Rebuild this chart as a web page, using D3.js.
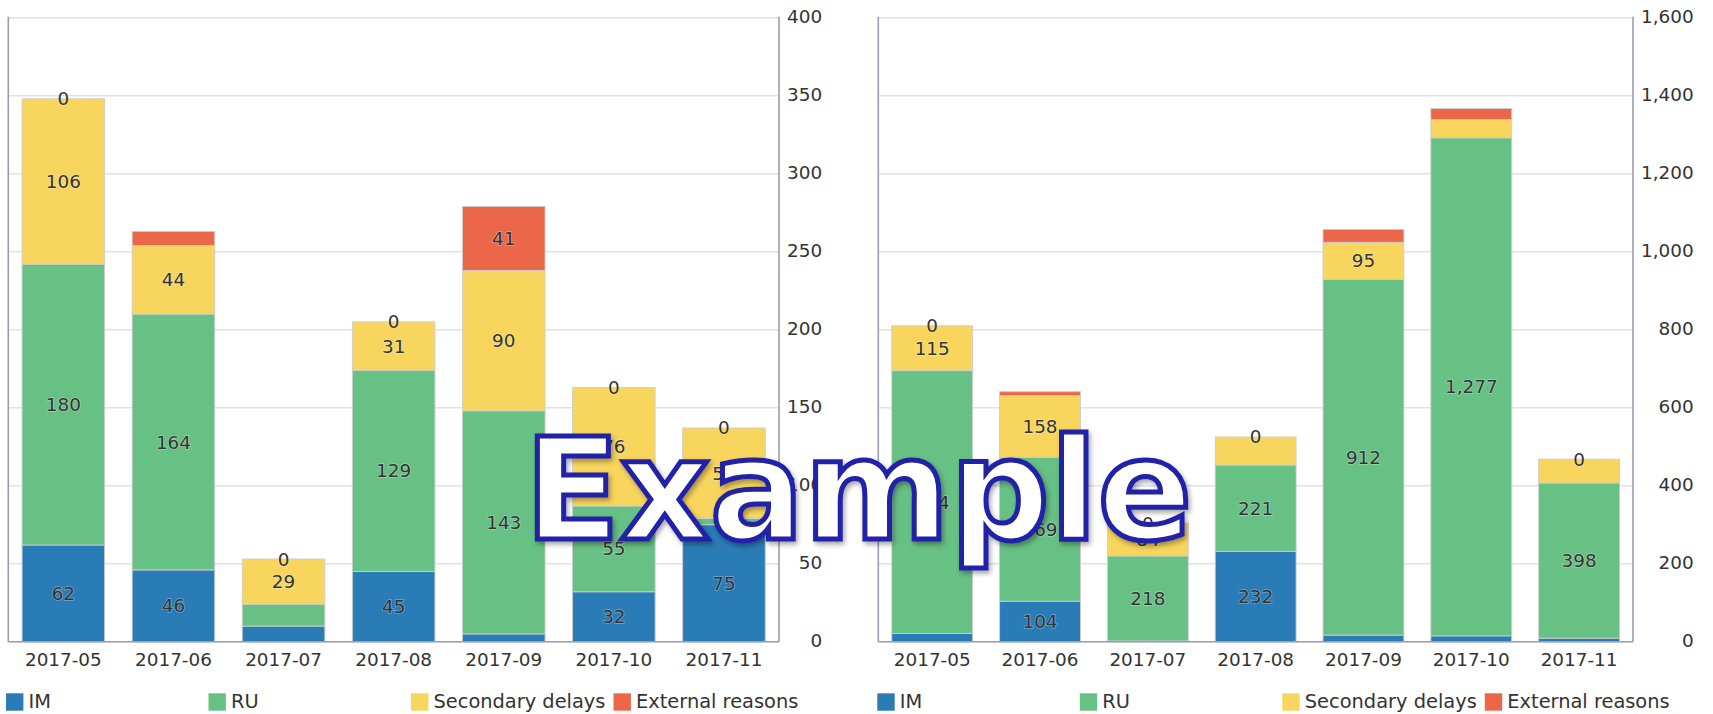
<!DOCTYPE html>
<html>
<head>
<meta charset="utf-8">
<script src="https://cdn.jsdelivr.net/npm/d3@7/dist/d3.min.js"></script>
<style>
  html, body { margin: 0; padding: 0; background: #ffffff; }
  svg { display: block; font-family: "DejaVu Sans", sans-serif; }
</style>
</head>
<body>
<svg id="chart" width="1713" height="714"></svg>
<script>
// ---- data ----
const categories = ["2017-05", "2017-06", "2017-07", "2017-08", "2017-09", "2017-10", "2017-11"];
const seriesNames = ["IM", "RU", "Secondary delays", "External reasons"];
const seriesColors = ["#2a7cb6", "#67c084", "#f8d55c", "#ec6649"];

// left panel
const leftIM  = [62, 46, 10, 45, 5, 32, 75];
const leftRU  = [180, 164, 14, 129, 143, 55, 4];
const leftSec = [106, 44, 29, 31, 90, 76, 58];
const leftExt = [0, 9, 0, 0, 41, 0, 0];
const leftTicks = [0, 50, 100, 150, 200, 250, 300, 350, 400];

// right panel
const rightIM  = [21, 104, 2, 232, 17, 15, 9];
const rightRU  = [674, 369, 218, 221, 912, 1277, 398];
const rightSec = [115, 158, 84, 72, 95, 47, 61];
const rightExt = [0, 10, 0, 0, 33, 28, 0];
const rightTicks = [0, 200, 400, 600, 800, 1000, 1200, 1400, 1600];

const watermarkText = "Example";

// ---- drawing ----
(function () {
const svg = d3.select("#chart");
const fmt = d3.format(",");
const FONT = 18.4;
const TEXT = "#333333";
const AXIS = "#9a9db2";
const GRID = "#e1e1e7";
const yTop = 17.7, yBottom = 641.7;

const panels = [
  { x0: 8.3, x1: 779, ticks: leftTicks, series: [leftIM, leftRU, leftSec, leftExt], legendX: 6 },
  { x0: 878.3, x1: 1633, ticks: rightTicks, series: [rightIM, rightRU, rightSec, rightExt], legendX: 877.3 }
];

panels.forEach(p => {
  const g = svg.append("g");
  const x = d3.scaleBand().domain(categories).range([p.x0, p.x1]).paddingInner(0.25).paddingOuter(0.125);
  const y = d3.scaleLinear().domain([0, d3.max(p.ticks)]).range([yBottom, yTop]);

  // gridlines
  g.append("g").selectAll("line").data(p.ticks).join("line")
    .attr("x1", p.x0).attr("x2", p.x1)
    .attr("y1", d => y(d)).attr("y2", d => y(d))
    .attr("stroke", GRID).attr("stroke-width", 1.6);

  // stacked data
  const rows = categories.map((c, i) => {
    const o = { cat: c };
    seriesNames.forEach((s, k) => o[s] = p.series[k][i]);
    return o;
  });
  const stack = d3.stack().keys(seriesNames)(rows);

  const bars = g.append("g");
  stack.forEach((layer, k) => {
    bars.append("g").selectAll("rect").data(layer).join("rect")
      .attr("x", d => x(d.data.cat))
      .attr("width", x.bandwidth())
      .attr("y", d => y(d[1]))
      .attr("height", d => Math.max(0, y(d[0]) - y(d[1])))
      .attr("fill", seriesColors[k])
      .attr("stroke", "#cdcdcd")
      .attr("stroke-width", 0.9);
  });

  // data labels
  const labels = g.append("g");
  stack.forEach((layer, k) => {
    layer.forEach(d => {
      const v = d[1] - d[0];
      const h = y(d[0]) - y(d[1]);
      if (!(v === 0 || h >= 30)) return;
      const cy = (y(d[0]) + y(d[1])) / 2;
      labels.append("text")
        .attr("x", x(d.data.cat) + x.bandwidth() / 2)
        .attr("y", cy + 6.5)
        .attr("text-anchor", "middle")
        .attr("font-size", FONT)
        .attr("fill", TEXT)
        .attr("stroke", "rgba(255,255,255,0.35)")
        .attr("stroke-width", 1.5)
        .attr("paint-order", "stroke")
        .text(fmt(v));
    });
  });

  // axis lines
  g.append("line").attr("x1", p.x0).attr("x2", p.x0).attr("y1", yTop - 1).attr("y2", yBottom)
    .attr("stroke", AXIS).attr("stroke-width", 1.6);
  g.append("line").attr("x1", p.x1).attr("x2", p.x1).attr("y1", yTop - 1).attr("y2", yBottom)
    .attr("stroke", AXIS).attr("stroke-width", 1.6);
  g.append("line").attr("x1", p.x0).attr("x2", p.x1).attr("y1", yBottom).attr("y2", yBottom)
    .attr("stroke", AXIS).attr("stroke-width", 1.6);

  // right value axis
  const ya = g.append("g").attr("transform", `translate(${p.x1},0)`)
    .call(d3.axisRight(y).tickValues(p.ticks).tickFormat(fmt).tickSize(0).tickPadding(8));
  ya.select(".domain").remove();
  const ytexts = ya.selectAll("text").attr("font-size", FONT).attr("font-family", "DejaVu Sans").attr("fill", TEXT);
  let maxW = 0;
  ytexts.each(function () { maxW = Math.max(maxW, this.getComputedTextLength()); });
  ytexts.attr("text-anchor", "end").attr("x", 8 + maxW).attr("dy", null).attr("y", 4.5);

  // category axis
  const xa = g.append("g").attr("transform", `translate(0,${yBottom})`)
    .call(d3.axisBottom(x).tickSize(0));
  xa.select(".domain").remove();
  xa.selectAll("text").attr("font-size", FONT).attr("font-family", "DejaVu Sans").attr("fill", TEXT)
    .attr("dy", null).attr("y", 24.8);

  // legend
  const lg = g.append("g");
  seriesNames.forEach((s, k) => {
    const lx = p.legendX + k * 202.5;
    lg.append("rect").attr("x", lx).attr("y", 693.3).attr("width", 17.4).attr("height", 17.4)
      .attr("fill", seriesColors[k]);
    lg.append("text").attr("x", lx + 22.5).attr("y", 708).attr("font-size", 19.4)
      .attr("fill", TEXT).text(s);
  });
});

// watermark overlay
const defs = svg.append("defs");
const f = defs.append("filter").attr("id", "shadow").attr("x", "-10%").attr("y", "-10%").attr("width", "120%").attr("height", "130%");
f.append("feDropShadow").attr("dx", 2).attr("dy", 3).attr("stdDeviation", 2.5).attr("flood-color", "#000").attr("flood-opacity", 0.35);

svg.append("text")
  .attr("x", 858.4).attr("y", 539)
  .attr("text-anchor", "middle")
  .attr("font-family", "DejaVu Sans")
  .attr("font-weight", "bold")
  .attr("font-size", 140)
  .attr("textLength", 668)
  .attr("lengthAdjust", "spacing")
  .attr("fill", "#ffffff")
  .attr("stroke", "#2020a8")
  .attr("stroke-width", 5)
  .attr("stroke-linejoin", "miter")
  .attr("filter", "url(#shadow)")
  .text(watermarkText);
})();
</script>
</body>
</html>
